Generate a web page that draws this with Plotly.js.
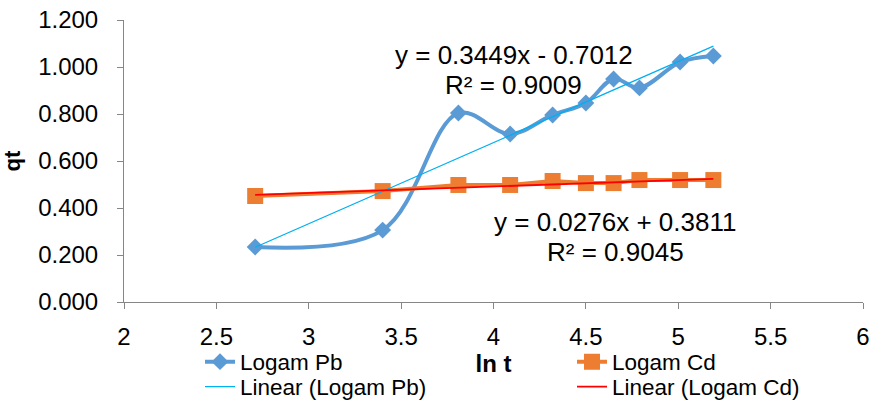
<!DOCTYPE html>
<html>
<head>
<meta charset="utf-8">
<script src="https://cdn.plot.ly/plotly-3.0.1.min.js"></script>
<style>html,body{margin:0;padding:0;background:#fff;}#chart{width:872px;height:401px;}</style>
</head>
<body>
<div id="chart"></div>
<script>
// ln t values (x)
var lnT = [2.71, 3.40, 3.81, 4.09, 4.32, 4.50, 4.65, 4.79, 5.01, 5.19];
// qt values
var logamPb = [0.234, 0.306, 0.804, 0.715, 0.796, 0.847, 0.949, 0.911, 1.021, 1.047];
var logamCd = [0.451, 0.472, 0.498, 0.498, 0.515, 0.506, 0.506, 0.519, 0.519, 0.519];
// trendline end points
var trendPbX = [2.71, 5.19];
var trendPbY = [0.233, 1.089];
var trendCdX = [2.71, 5.19];
var trendCdY = [0.456, 0.524];
var eqPb = ["y = 0.3449x - 0.7012", "R² = 0.9009"];
var eqCd = ["y = 0.0276x + 0.3811", "R² = 0.9045"];
var xTicks = [2, 2.5, 3, 3.5, 4, 4.5, 5, 5.5, 6];
var yTicks = [0, 0.2, 0.4, 0.6, 0.8, 1.0, 1.2];

var FONT = "Liberation Sans, Arial, sans-serif";
var L = 124, R = 863, T = 20, B = 302, W = 872, H = 401;
function px2x(p){ return (p - L) / (R - L); }
function px2y(p){ return (B - p) / (B - T); }

var traces = [
  {x: lnT, y: logamPb, name: "Logam Pb", type: "scatter", mode: "lines+markers",
   line: {color: "#5B9BD5", width: 4, shape: "spline", smoothing: 1},
   marker: {symbol: "diamond", size: 13, color: "#5B9BD5"}, legend: "legend"},
  {x: lnT, y: logamCd, name: "Logam Cd", type: "scatter", mode: "lines+markers",
   line: {color: "#ED7D31", width: 4},
   marker: {symbol: "square", size: 16, color: "#ED7D31"}, legend: "legend2"},
  {x: trendPbX, y: trendPbY, name: "Linear (Logam Pb)", type: "scatter", mode: "lines",
   line: {color: "#00B0F0", width: 1.3}, legend: "legend3"},
  {x: trendCdX, y: trendCdY, name: "Linear (Logam Cd)", type: "scatter", mode: "lines",
   line: {color: "#FF0000", width: 1.8}, legend: "legend4"}
];

function leg(xp, yp){
  return {x: px2x(xp), y: px2y(yp), xanchor: "left", yanchor: "middle",
          font: {family: FONT, size: 22.5, color: "#000"}, bgcolor: "rgba(0,0,0,0)",
          borderwidth: 0, orientation: "v"};
}

function ann(text, xp, yp){
  return {text: text, x: px2x(xp), y: px2y(yp), xref: "paper", yref: "paper",
          xanchor: "center", yanchor: "middle", showarrow: false,
          font: {family: FONT, size: 26, color: "#000"}};
}

var layout = {
  width: W, height: H,
  margin: {l: L, r: W - R, t: T, b: H - B, pad: 0, autoexpand: false},
  paper_bgcolor: "#fff", plot_bgcolor: "#fff",
  font: {family: FONT, color: "#000"},
  showlegend: true,
  xaxis: {
    range: [2, 6], tickvals: xTicks, ticktext: xTicks.map(String),
    showgrid: false, zeroline: false, showline: true, linecolor: "#868686", linewidth: 1,
    ticks: "outside", ticklen: 6, tickcolor: "#868686",
    tickfont: {family: FONT, size: 24, color: "#000"}, ticklabelstandoff: 7,
    title: {text: "<b>ln t</b>", font: {family: FONT, size: 24, color: "#000"}, standoff: 1}
  },
  yaxis: {
    range: [0, 1.2], tickvals: yTicks, tickformat: ".3f",
    showgrid: false, zeroline: false, showline: true, linecolor: "#868686", linewidth: 1,
    ticks: "outside", ticklen: 6, tickcolor: "#868686",
    tickfont: {family: FONT, size: 24, color: "#000"}, ticklabelstandoff: 14,
    title: {text: "<b>qt</b>", font: {family: FONT, size: 22, color: "#000"}, standoff: 13}
  },
  legend: leg(200, 362),
  legend2: leg(572, 362),
  legend3: leg(200, 387),
  legend4: leg(572, 387),
  annotations: [
    ann(eqPb[0], 514, 55), ann(eqPb[1], 513, 85),
    ann(eqCd[0], 615, 222), ann(eqCd[1], 615, 252)
  ]
};

Plotly.newPlot("chart", traces, layout, {displayModeBar: false, staticPlot: true});
</script>
</body>
</html>
